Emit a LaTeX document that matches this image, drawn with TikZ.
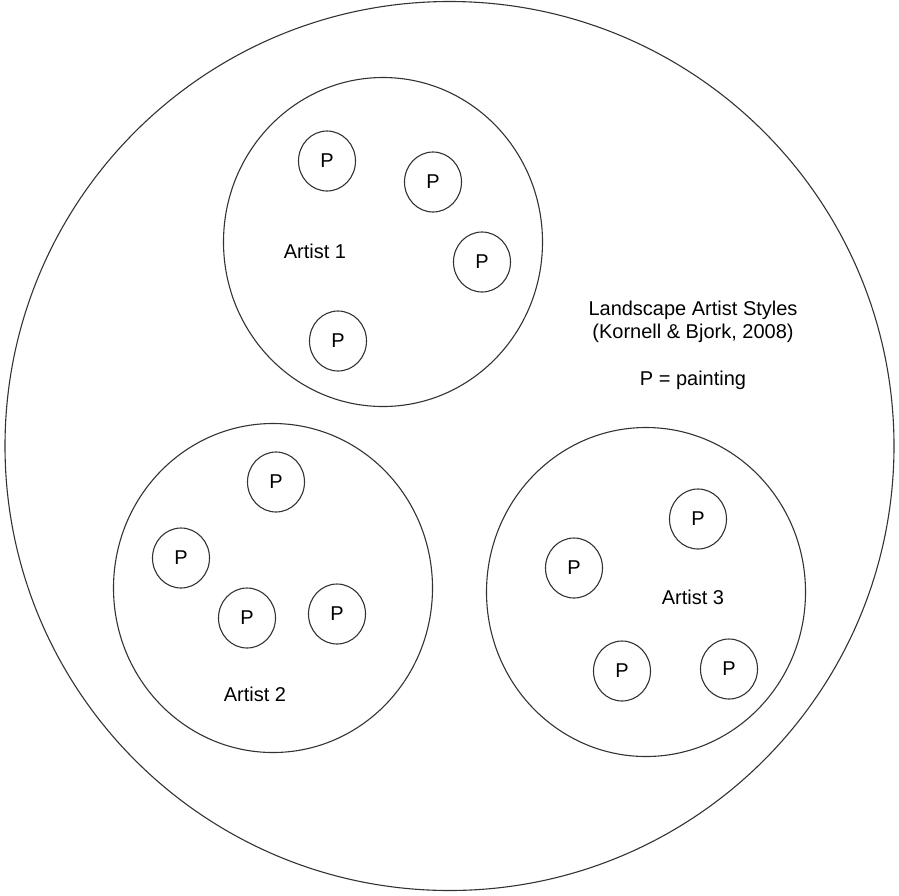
\documentclass[tikz,border=0pt]{standalone}
\usepackage{fontspec}
\setmainfont{Liberation Sans}
\usetikzlibrary{shapes.geometric}

\begin{document}
\begin{tikzpicture}[x=1pt,y=-1pt,
  every node/.style={font=\fontsize{20}{23}\selectfont},
  group/.style={ellipse,draw=black!80,line width=1.1pt,minimum width=319pt,
    minimum height=329pt,inner sep=0pt},
  ptg/.style={ellipse,draw=black!80,line width=1.1pt,minimum width=57pt,
    minimum height=60pt,inner sep=0pt}]
\useasboundingbox (0,0) rectangle (899,895);
% outer circle round all styles
\node[circle,draw=black!80,line width=1.1pt,minimum size=889pt,inner sep=0pt]
  (all) at (449.5,446) {};
% the three artists
\node[group] (a1) at (383,242) {};
\node[group] (a2) at (273,588) {};
\node[group] (a3) at (646,592) {};
% paintings of each artist
\foreach \x/\y [count=\i] in {327/161,433/182,482/262,338/341}
  \node[ptg] (p1\i) at (\x,\y) {P};
\foreach \x/\y [count=\i] in {276/482,181/558,247/618,337/614}
  \node[ptg] (p2\i) at (\x,\y) {P};
\foreach \x/\y [count=\i] in {698/519,574/568,622/671,729/669}
  \node[ptg] (p3\i) at (\x,\y) {P};
% labels
\node (l1) at (315,251) {Artist 1};
\node (l2) at (255,694) {Artist 2};
\node (l3) at (693,597) {Artist 3};
\node[align=center] (key) at (693,345)
  {Landscape Artist Styles\\(Kornell \& Bjork, 2008)\\[24pt]P = painting};
\end{tikzpicture}
\end{document}
